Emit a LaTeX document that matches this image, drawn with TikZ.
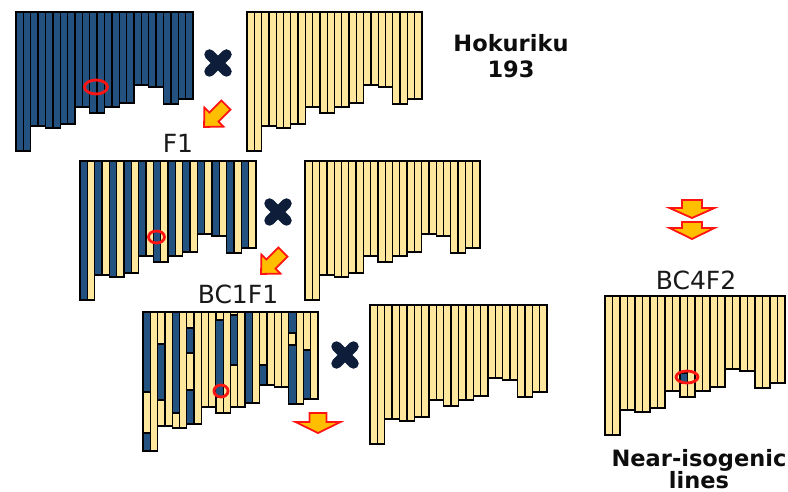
\documentclass[tikz,border=0pt]{standalone}
\usepackage{fontspec}
\newfontfamily\lab{DejaVu Sans}
\definecolor{cblue}{RGB}{35,82,128}
\definecolor{cyel}{RGB}{255,231,158}
\definecolor{cnavy}{RGB}{14,30,58}
\definecolor{corange}{RGB}{255,190,0}
\definecolor{cred}{RGB}{255,20,20}
\def\chromH{139,114,116,112,95,101,95,91,73,75,92,87}
\newcommand\chromfill[5]{%
  \foreach \h [count=\i from 0] in \chromH {%
    \pgfmathsetmacro\xa{#1+2*\i*#3}%
    \filldraw[fill=#4, barline] (\xa,#2) rectangle ++(#3,\h);
    \filldraw[fill=#5, barline] (\xa+#3,#2) rectangle ++(#3,\h);
  }}
\tikzset{
  barline/.style={draw=black, line width=1.3pt},
  seg/.style={fill=cblue, draw=black, line width=1.1pt},
  ring/.style={draw=cred, line width=2.8pt},
  arrowst/.style={fill=corange, draw=cred, line width=1.8pt, line join=miter},
  lbl/.style={font=\lab\fontsize{25}{28}\selectfont, text=black!90, anchor=base, inner sep=0pt},
  blbl/.style={font=\lab\bfseries\fontsize{22.5}{26}\selectfont, text=black!95, anchor=base, inner sep=0pt},
  pics/xmark/.style={code={%
    \draw[cnavy, line width=10.5pt, line cap=round] (-8.5,-8.5) -- (8.5,8.5) (-8.5,8.5) -- (8.5,-8.5);}},
  pics/fatarr/.style n args={4}{code={%
    \filldraw[arrowst] (-#1,-#3/2) -- (#1,-#3/2) -- (#1,#3/2-#4) -- (#2,#3/2-#4) -- (0,#3/2) -- (-#2,#3/2-#4) -- (-#1,#3/2-#4) -- cycle;}}
}
\begin{document}
\begin{tikzpicture}[x=1pt,y=-1pt]
\fill[white] (0,0) rectangle (788,492);
\useasboundingbox (0,0) rectangle (788,492);

% chromosome blocks
\chromfill{16}{12}{7.375}{cblue}{cblue}
\chromfill{247}{12}{7.29}{cyel}{cyel}
\chromfill{80}{161}{7.33}{cblue}{cyel}
\chromfill{305}{161}{7.29}{cyel}{cyel}
\chromfill{143}{312}{7.29}{cyel}{cyel}
\foreach \b/\s/\e in {0/0/80, 0/121/139, 2/32/88, 4/0/101, 6/16/41, 6/78/112, 10/8/85, 12/3/53, 14/0/91, 16/53/73, 20/0/21, 20/33/92, 22/38/87}
  \filldraw[seg] (143+\b*7.29,312+\s) rectangle (143+\b*7.29+7.29,312+\e);
\chromfill{370}{305}{7.375}{cyel}{cyel}
\chromfill{605}{296}{7.5}{cyel}{cyel}
\filldraw[seg] (680,373) rectangle (687.5,383);

% red marks
\draw[ring] (96,87) ellipse [x radius=11.5pt, y radius=7pt];
\draw[ring] (156.5,237) ellipse [x radius=8pt, y radius=6pt];
\draw[ring] (221,391) ellipse [x radius=7pt, y radius=6pt];
\draw[ring] (687,377) ellipse [x radius=11pt, y radius=6pt];

% crosses
\pic (cross1) at (218,63) {xmark};
\pic (cross2) at (278,212) {xmark};
\pic (cross3) at (345,355) {xmark};

% arrows
\pic (arr1) [rotate=-45] at (215,116) {fatarr={6.5}{13.5}{31}{14}};
\pic (arr2) [rotate=-45] at (272,263) {fatarr={6.5}{13.5}{31}{14}};
\pic (arr3) at (318,423) {fatarr={8.5}{22.5}{20}{11}};
\pic (arr4) at (692,209) {fatarr={10}{22.5}{18}{10}};
\pic (arr5) at (692,230.5) {fatarr={10}{22.5}{17}{11}};

% labels
\node[blbl] (hok1) at (511,52) {Hokuriku};
\node[blbl] (hok2) at (511,78) {193};
\node[lbl] (f1) at (178,153) {F1};
\node[lbl] (bc1) at (238,303) {BC1F1};
\node[lbl] (bc4) at (696,290) {BC4F2};
\node[blbl] (nil1) at (699,466) {Near-isogenic};
\node[blbl] (nil2) at (699,488) {lines};
\end{tikzpicture}
\end{document}
